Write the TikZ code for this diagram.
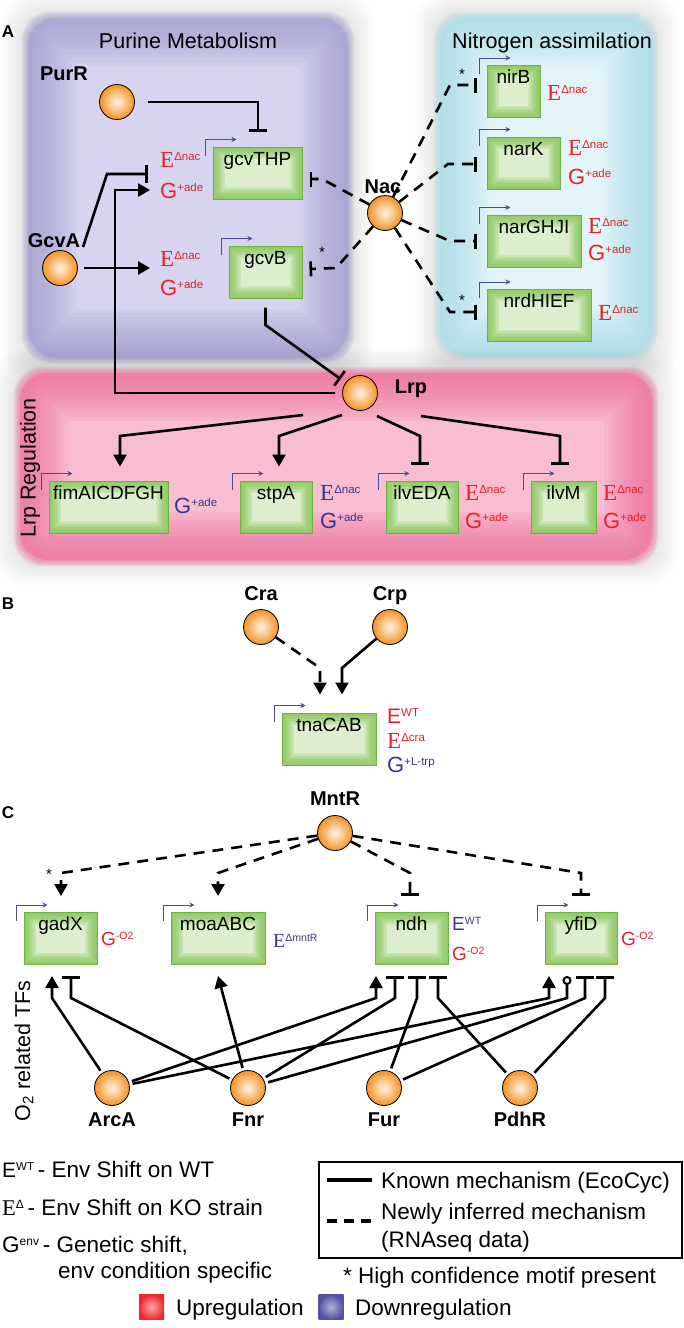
\documentclass[tikz,border=0pt]{standalone}
\usepackage{fontspec}
\setmainfont{Liberation Sans}
\newfontfamily\serifE{Liberation Serif}
\usetikzlibrary{arrows.meta,calc}
\definecolor{regred}{HTML}{E3232A}
\definecolor{regblue}{HTML}{3A3691}
\definecolor{promc}{HTML}{4B4B96}
\definecolor{gfill}{HTML}{DCEECD}
\definecolor{gedge}{HTML}{6DB33F}
\definecolor{gglow}{HTML}{7DC24B}
\definecolor{purpE}{HTML}{A29ED1}
\definecolor{purpC}{HTML}{D6D4EE}
\definecolor{cyanE}{HTML}{A9DCE8}
\definecolor{cyanC}{HTML}{E3F4F8}
\definecolor{pinkE}{HTML}{EE6F9C}
\definecolor{pinkC}{HTML}{F8BDD1}
\definecolor{ballO}{HTML}{F39222}
\definecolor{ballI}{HTML}{FEF3E8}
\definecolor{upred}{HTML}{EE2A2E}
\definecolor{downblue}{HTML}{5552A6}
\newcommand\fs[1]{\fontsize{#1}{#1}\selectfont}
\newcommand\Ea[1]{{\serifE\fs{23}E}\raisebox{6.5pt}{\fs{11.5}#1}}
\newcommand\Ga[1]{{\fs{22}G}\raisebox{6.5pt}{\fs{11.5}#1}}
\newcommand\Eb[1]{{\fs{21}E}\raisebox{6.5pt}{\fs{11.5}#1}}
\newcommand\Ec[1]{{\serifE\fs{20}E}\raisebox{5.5pt}{\fs{10.5}#1}}
\newcommand\Gc[1]{{\fs{19}G}\raisebox{5.5pt}{\fs{10.5}#1}}
\newcommand\Ecs[1]{{\fs{19}E}\raisebox{5.5pt}{\fs{10.5}#1}}
\newcommand\prom[1]{\draw[prom] ($(#1.north west)+(-7,9)$) -- ++(0,-16) -- ++(31,0);}
\newcommand\softregion[7]{%
  \foreach \k in {1,...,10}{\fill[black, opacity=0.010, rounded corners=#7] (#1-2.5*\k, #2-2.5*\k) rectangle (#3+2.5*\k, #4+2.5*\k);}
  \foreach \k in {1,...,4}{\fill[#5, opacity=0.2, rounded corners=#7] (#1-1.5*\k, #2-1.5*\k) rectangle (#3+1.5*\k, #4+1.5*\k);}
  \begin{scope}
    \clip[rounded corners=#7] (#1,#2) rectangle (#3,#4);
    \fill[#6] (#1,#2) rectangle (#3,#4);
    \foreach \w in {8,16,...,96}{\draw[#5, opacity=0.11, line width=\w pt, rounded corners=#7] (#1,#2) rectangle (#3,#4);}
  \end{scope}}
\begin{document}
\begin{tikzpicture}[x=1pt,y=-1pt,
  tf/.style={circle, minimum size=35pt, inner sep=0pt, draw=black, line width=0.8pt, inner color=ballI, outer color=ballO},
  tflab/.style={font=\fs{20}\bfseries, anchor=base, inner sep=0pt},
  gene/.style={rectangle, draw=gedge, line width=1pt, fill=gfill, inner sep=0pt, text height=18pt, text depth=34pt, font=\fs{19},
    path picture={\foreach \w in {3,6,...,24}{\draw[gglow, opacity=0.16, line width=\w pt] (path picture bounding box.south west) rectangle (path picture bounding box.north east);}}},
  lab/.style={anchor=base west, inner sep=0pt},
  edge/.style={line width=2.6pt},
  act/.style={edge, -{Triangle[width=13pt,length=12pt]}},
  rep/.style={edge, -{Bar[width=18pt]}},
  repn/.style={edge, -{Bar[width=15pt]}},
  circ/.style={edge, -{Circle[open,length=9pt,width=9pt,line width=2pt]}},
  dsh/.style={dash pattern=on 11pt off 8pt},
  prom/.style={promc, line width=1pt, -{Stealth[length=5pt,width=5pt]}},
  title/.style={font=\fs{21.5}, anchor=base, inner sep=0pt},
  leg/.style={font=\fs{22.5}, anchor=base west, inner sep=0pt},
  star/.style={font=\fs{15}, inner sep=0pt},
  panel/.style={font=\fs{17}\bfseries, inner sep=0pt}]
\useasboundingbox (0,0) rectangle (684,1328);
\fill[white] (0,0) rectangle (684,1328);
% ---------- regions
\softregion{28}{18}{348}{357}{purpE}{purpC}{28pt}
\softregion{440}{18}{652}{354}{cyanE}{cyanC}{28pt}
\softregion{20}{373}{652}{560}{pinkE}{pinkC}{28pt}
\node[title] (tPur) at (188,48) {Purine Metabolism};
\node[title] (tNit) at (552,48) {Nitrogen assimilation};
\node[rotate=90, font=\fs{21.5}, inner sep=0pt] (tLrp) at (30,468) {Lrp Regulation};
\node[rotate=90, font=\fs{21.5}, inner sep=0pt] (tO2) at (24,1051) {O\textsubscript{2} related TFs};
\node[panel] (pA) at (8,32) {A};
\node[panel] (pB) at (8,604) {B};
\node[panel] (pC) at (8,813) {C};
% ---------- TFs
\node[tf] (PurR) at (117,102) {};
\node[tflab] (PurR-l) at (64,80) {PurR};
\node[tf] (GcvA) at (60,268) {};
\node[tflab] (GcvA-l) at (54,247) {GcvA};
\node[tf] (Nac) at (385,213) {};
\node[tflab] (Nac-l) at (383,193) {Nac};
\node[tf] (Lrp) at (360,393) {};
\node[tflab] (Lrp-l) at (411,393) {Lrp};
\node[tf] (Cra) at (261,627) {};
\node[tflab] (Cra-l) at (261,600) {Cra};
\node[tf] (Crp) at (390,627) {};
\node[tflab] (Crp-l) at (390,600) {Crp};
\node[tf] (MntR) at (335,833) {};
\node[tflab] (MntR-l) at (335,805) {MntR};
\node[tf] (ArcA) at (112,1088) {};
\node[tflab] (ArcA-l) at (112,1126) {ArcA};
\node[tf] (Fnr) at (248,1088) {};
\node[tflab] (Fnr-l) at (248,1126) {Fnr};
\node[tf] (Fur) at (384,1088) {};
\node[tflab] (Fur-l) at (384,1126) {Fur};
\node[tf] (PdhR) at (520,1088) {};
\node[tflab] (PdhR-l) at (520,1126) {PdhR};
% ---------- genes
\node[gene, minimum width=89pt, minimum height=52pt] (gcvTHP) at (257.5,173) {gcvTHP};
\node[gene, minimum width=73pt, minimum height=52pt] (gcvB) at (265.5,272) {gcvB};
\node[gene, minimum width=53pt, minimum height=52pt] (nirB) at (513.5,91.5) {nirB};
\node[gene, minimum width=73pt, minimum height=52pt] (narK) at (523.5,163) {narK};
\node[gene, minimum width=94pt, minimum height=52pt] (narGHJI) at (534,241) {narGHJI};
\node[gene, minimum width=104pt, minimum height=52pt] (nrdHIEF) at (539,315.5) {nrdHIEF};
\node[gene, minimum width=119pt, minimum height=52pt] (fim) at (108.5,507) {fimAICDFGH};
\node[gene, minimum width=72pt, minimum height=52pt] (stpA) at (276,507) {stpA};
\node[gene, minimum width=72pt, minimum height=52pt] (ilvEDA) at (422,507) {ilvEDA};
\node[gene, minimum width=65pt, minimum height=52pt] (ilvM) at (563.5,507) {ilvM};
\node[gene, minimum width=94pt, minimum height=52pt] (tnaCAB) at (329,739) {tnaCAB};
\node[gene, minimum width=73pt, minimum height=52pt] (gadX) at (60.5,938.5) {gadX};
\node[gene, minimum width=94pt, minimum height=52pt] (moaABC) at (218,938.5) {moaABC};
\node[gene, minimum width=73pt, minimum height=52pt] (ndh) at (411.5,938.5) {ndh};
\node[gene, minimum width=72pt, minimum height=52pt] (yfiD) at (581,938.5) {yfiD};
\foreach \g in {gcvTHP,gcvB,nirB,narK,narGHJI,nrdHIEF,fim,stpA,ilvEDA,ilvM,tnaCAB,gadX,moaABC,ndh,yfiD}{\prom{\g}}
% ---------- gene annotations
\node[lab, regred] (gcvTHP-E) at (160,167) {\Ea{Δnac}};
\node[lab, regred] (gcvTHP-G) at (160,198) {\Ga{+ade}};
\node[lab, regred] (gcvB-E) at (160,266) {\Ea{Δnac}};
\node[lab, regred] (gcvB-G) at (160,295) {\Ga{+ade}};
\node[lab, regred] (nirB-E) at (547,100) {\Ea{Δnac}};
\node[lab, regred] (narK-E) at (568,155) {\Ea{Δnac}};
\node[lab, regred] (narK-G) at (568,184) {\Ga{+ade}};
\node[lab, regred] (narGHJI-E) at (588,233) {\Ea{Δnac}};
\node[lab, regred] (narGHJI-G) at (588,260) {\Ga{+ade}};
\node[lab, regred] (nrdHIEF-E) at (598,320) {\Ea{Δnac}};
\node[lab, regblue] (fim-G) at (174,513) {\Ga{+ade}};
\node[lab, regblue] (stpA-E) at (320,500) {\Ea{Δnac}};
\node[lab, regblue] (stpA-G) at (320,528) {\Ga{+ade}};
\node[lab, regred] (ilvEDA-E) at (465,500) {\Ea{Δnac}};
\node[lab, regred] (ilvEDA-G) at (465,528) {\Ga{+ade}};
\node[lab, regred] (ilvM-E) at (603,500) {\Ea{Δnac}};
\node[lab, regred] (ilvM-G) at (603,528) {\Ga{+ade}};
\node[lab, regred] (tna-E1) at (387,723) {\Eb{WT}};
\node[lab, regred] (tna-E2) at (387,748) {\Ea{Δcra}};
\node[lab, regblue] (tna-G) at (387,772) {\Ga{+L-trp}};
\node[lab, regred] (gadX-G) at (101,945) {\Gc{-O2}};
\node[lab, regblue] (moa-E) at (273,947) {\Ec{ΔmntR}};
\node[lab, regblue] (ndh-E) at (452,930) {\Ecs{WT}};
\node[lab, regred] (ndh-G) at (452,960) {\Gc{-O2}};
\node[lab, regred] (yfiD-G) at (621,945) {\Gc{-O2}};
% ---------- panel A edges
\draw[rep, shorten <=13pt] (PurR.east) -| ($(gcvTHP.north)+(0.5,-15)$);
\coordinate (GcvA-o) at ($(GcvA)+(23,-21)$);
\coordinate (gcvTHP-Ein) at (148,174);
\draw[rep] (GcvA-o) -- (107,174) -- (gcvTHP-Ein);
\coordinate (gcvTHP-Gin) at (150,190);
\draw[act, shorten <=7pt] (Lrp.west) -- (115,393) |- (gcvTHP-Gin);
\coordinate (gcvB-Ein) at (150,268);
\draw[act, shorten <=6pt] (GcvA.east) -- (gcvB-Ein);
\draw[rep, shorten <=9pt, shorten >=6pt] (gcvB.south) -- (265.5,325) -- (Lrp);
\draw[repn, dsh] (Nac) -- (322,179) -- ($(gcvTHP.east)+(7,6)$);
\draw[repn, dsh] (Nac) -- (336,268) -- ($(gcvB.east)+(7,-3)$);
\draw[repn, dsh] (Nac) -- (450,85) -- ($(nirB.west)+(-10,-6.5)$);
\draw[repn, dsh] (Nac) -- (448,164) -- ($(narK.west)+(-10,1)$);
\draw[repn, dsh] (Nac) -- (450,241) -- ($(narGHJI.west)+(-10,0)$);
\draw[repn, dsh] (Nac) -- (450,312) -- ($(nrdHIEF.west)+(-10,-3.5)$);
\node[star] (s1) at (322,252) {*};
\node[star] (s2) at (462,74) {*};
\node[star] (s3) at (462,300) {*};
\coordinate (Lo1) at ($(Lrp)+(-57,22)$);
\coordinate (Lo2) at ($(Lrp)+(-18,22)$);
\coordinate (Lo3) at ($(Lrp)+(17,23)$);
\coordinate (Lo4) at ($(Lrp)+(61,23)$);
\draw[act] (Lo1) -- (120,436) -- ($(fim.north)+(11.5,-14)$);
\draw[act] (Lo2) -- (279,436) -- ($(stpA.north)+(3,-14)$);
\draw[rep] (Lo3) -- (420,436) -- ($(ilvEDA.north)+(-2,-16)$);
\draw[rep] (Lo4) -- (560,436) -- ($(ilvM.north)+(-3.5,-16)$);
% ---------- panel B edges
\draw[act, dsh] (Cra) -- (320,668) -- ($(tnaCAB.north)+(-9,-18)$);
\draw[act] (Crp) -- (342,668) -- ($(tnaCAB.north)+(13,-18)$);
% ---------- panel C edges
\draw[act, dsh] (MntR) -- (61,873) -- ($(gadX.north)+(0.5,-16)$);
\draw[act, dsh] (MntR) -- (218,873) -- ($(moaABC.north)+(0,-16)$);
\draw[rep, dsh] (MntR) -- (410,873) -- ($(ndh.north)+(-1.5,-16)$);
\draw[rep, dsh] (MntR) -- (581,873) -- ($(yfiD.north)+(0,-16)$);
\node[star] (s4) at (49,874) {*};
\draw[act, shorten <=3pt] (ArcA) -- (52,998) -- ($(gadX.south)+(-8.5,11)$);
\draw[rep, shorten <=3pt] (Fnr) -- (71,998) -- ($(gadX.south)+(10.5,11)$);
\draw[act, shorten <=3pt] (Fnr) -- ($(moaABC.south)+(0,11)$);
\draw[act, shorten <=3pt] (ArcA) -- (376,998) -- ($(ndh.south)+(-35.5,11)$);
\draw[rep, shorten <=3pt] (Fnr) -- (395,998) -- ($(ndh.south)+(-16.5,11)$);
\draw[rep, shorten <=3pt] (Fur) -- (417,998) -- ($(ndh.south)+(5.5,11)$);
\draw[rep, shorten <=3pt] (PdhR) -- (438,998) -- ($(ndh.south)+(26.5,11)$);
\draw[act, shorten <=3pt] (ArcA) -- (549,998) -- ($(yfiD.south)+(-32,11)$);
\draw[circ, shorten <=3pt] (Fnr) -- (567,998) -- ($(yfiD.south)+(-14,11)$);
\draw[rep, shorten <=3pt] (Fur) -- (585,998) -- ($(yfiD.south)+(4,11)$);
\draw[rep, shorten <=3pt] (PdhR) -- (605,998) -- ($(yfiD.south)+(24,11)$);
% ---------- legend
\node[leg] (lg1) at (2,1177) {\Eb{WT}\,- Env Shift on WT};
\node[leg] (lg2) at (2,1215) {{\serifE E}\raisebox{7pt}{\fs{12}Δ}\,- Env Shift on KO strain};
\node[leg] (lg3) at (2,1252) {G\raisebox{7pt}{\fs{12}env}\,- Genetic shift,};
\node[leg] (lg4) at (58,1278) {env condition specific};
\node[draw, line width=2.5pt, minimum width=363pt, minimum height=96pt, inner sep=0pt] (legbox) at (500.5,1210) {};
\coordinate (ls1) at (327,1180);
\coordinate (ls2) at (372,1180);
\draw[line width=4pt] (ls1) -- (ls2);
\coordinate (ld1) at (327,1221);
\coordinate (ld2) at (372,1221);
\draw[line width=4pt, dash pattern=on 10pt off 7pt] (ld1) -- (ld2);
\node[leg] (lg5) at (381,1188) {Known mechanism (EcoCyc)};
\node[leg] (lg6) at (381,1219) {Newly inferred mechanism};
\node[leg] (lg7) at (381,1247) {(RNAseq data)};
\node[leg] (lg8) at (343,1283) {* High confidence motif present};
\node[minimum width=25pt, minimum height=25pt, inner sep=0pt, inner color=upred!40, outer color=upred] (sqU) at (151.5,1307) {};
\node[leg] (lg9) at (176,1315) {Upregulation};
\node[minimum width=25pt, minimum height=25pt, inner sep=0pt, inner color=downblue!45, outer color=downblue] (sqD) at (331,1307) {};
\node[leg] (lg10) at (355,1315) {Downregulation};
\end{tikzpicture}
\end{document}
